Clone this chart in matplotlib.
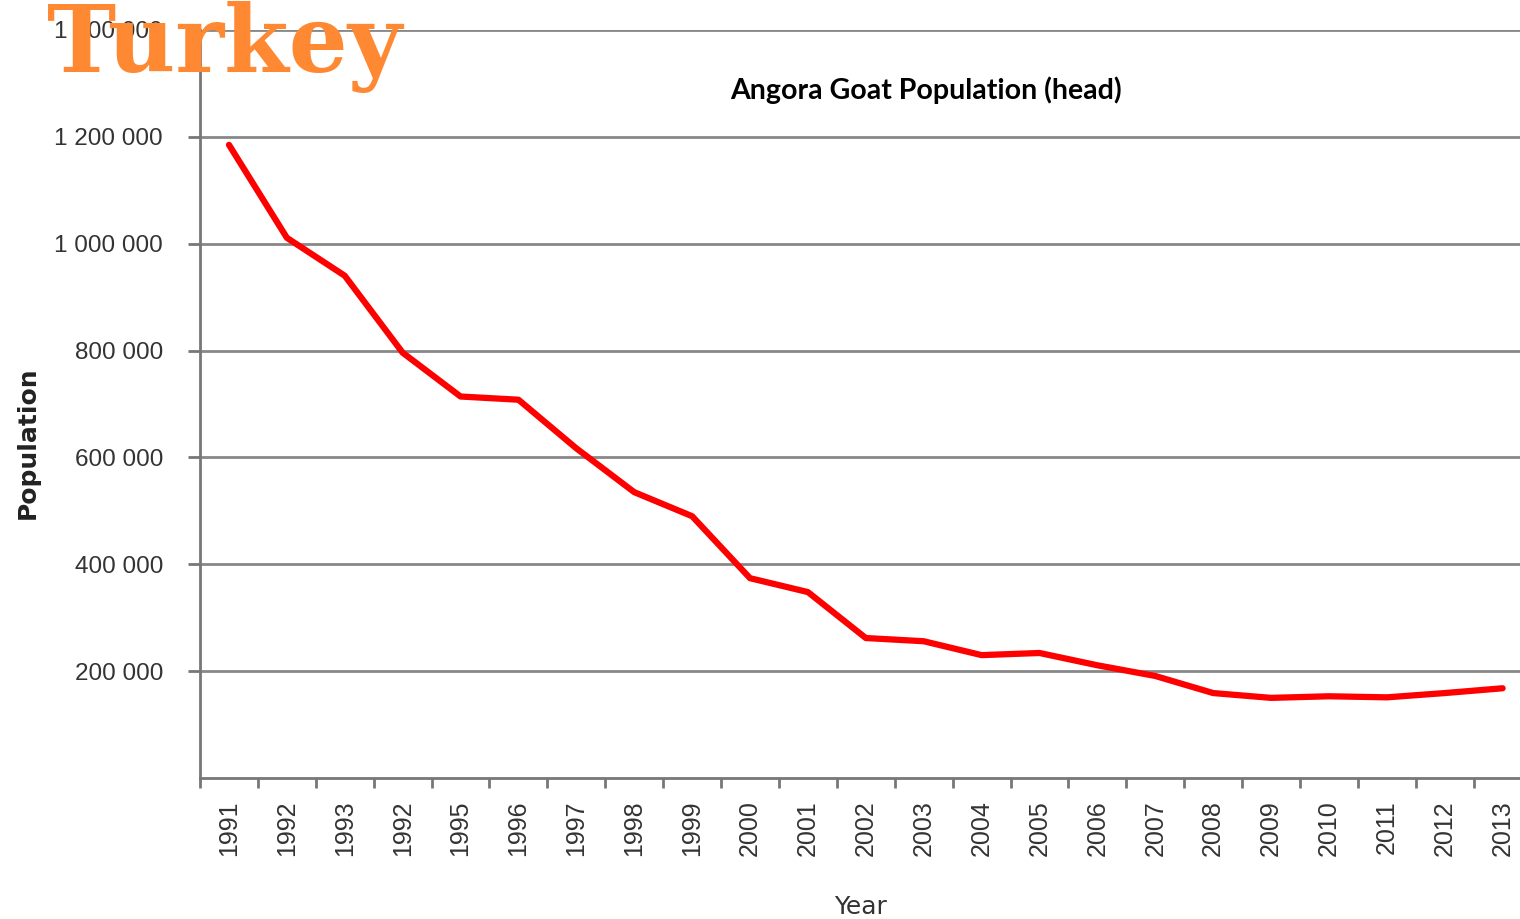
import numpy as np
import matplotlib.pyplot as plt

# Angora goat population, Turkey (head)
years = ['1991', '1992', '1993', '1992', '1995', '1996', '1997', '1998', '1999', '2000',
         '2001', '2002', '2003', '2004', '2005', '2006', '2007', '2008', '2009', '2010',
         '2011', '2012', '2013']
population = [1185000, 1011000, 940000, 796000, 714000, 708000, 617000, 535000, 490000, 374000,
              348000, 262000, 256000, 230000, 234000, 211000, 191000, 159000, 150000, 153000,
              151000, 159000, 168000]
yticks = [200000, 400000, 600000, 800000, 1000000, 1200000, 1400000]
ytick_labels = ['200 000', '400 000', '600 000', '800 000', '1 000 000', '1 200 000', '1 400 000']

fig = plt.figure(figsize=(15.2, 9.19), dpi=100)
ax = fig.add_axes([0.1316, 0.1534, 0.8684, 0.814])

x = np.arange(len(years)) + 0.5
ax.plot(x, population, color='#ff0000', lw=4.5, solid_capstyle='round', solid_joinstyle='round', zorder=3)

ax.set_xlim(0, 22.8)
ax.set_ylim(0, 1400000)

# category axis: ticks on boundaries, labels centred
ax.set_xticks(np.arange(0, 23))
ax.set_xticklabels([])
ax.set_xticks(x, minor=True)
ax.set_xticklabels(years, minor=True, rotation=90, fontsize=18, color='#333333',
                   family='Liberation Sans')
ax.tick_params(axis='x', which='major', length=7, width=2, color='#777777', direction='out')
ax.tick_params(axis='x', which='minor', length=0, pad=16)

ax.set_yticks(yticks)
ax.set_yticklabels(ytick_labels, fontsize=17.5, color='#333333', family='Liberation Sans')
ax.tick_params(axis='y', length=8.6, width=2, color='#777777', pad=18)
ax.grid(axis='y', color='#888888', lw=2)

for s in ['top', 'right']:
    ax.spines[s].set_visible(False)
for s in ['left', 'bottom']:
    ax.spines[s].set_color('#777777')
    ax.spines[s].set_linewidth(2)

fig.text(0.018, 0.518, 'Population', fontsize=18, fontweight='bold', color='#222222',
         rotation=90, ha='center', va='center')
ax.set_xlabel('Year', fontsize=18, color='#333333', labelpad=28)
ax.text(0.55, 0.92, 'Angora Goat Population (head)', transform=ax.transAxes,
        ha='center', va='center', fontsize=20.5, fontweight='bold', family='Lato')

fig.text(0.031, 0.999, 'Turkey', fontsize=67, fontweight='bold', family='DejaVu Serif',
         color='#ff8833', ha='left', va='top', zorder=10)

fig.savefig('out.png', dpi=100)
